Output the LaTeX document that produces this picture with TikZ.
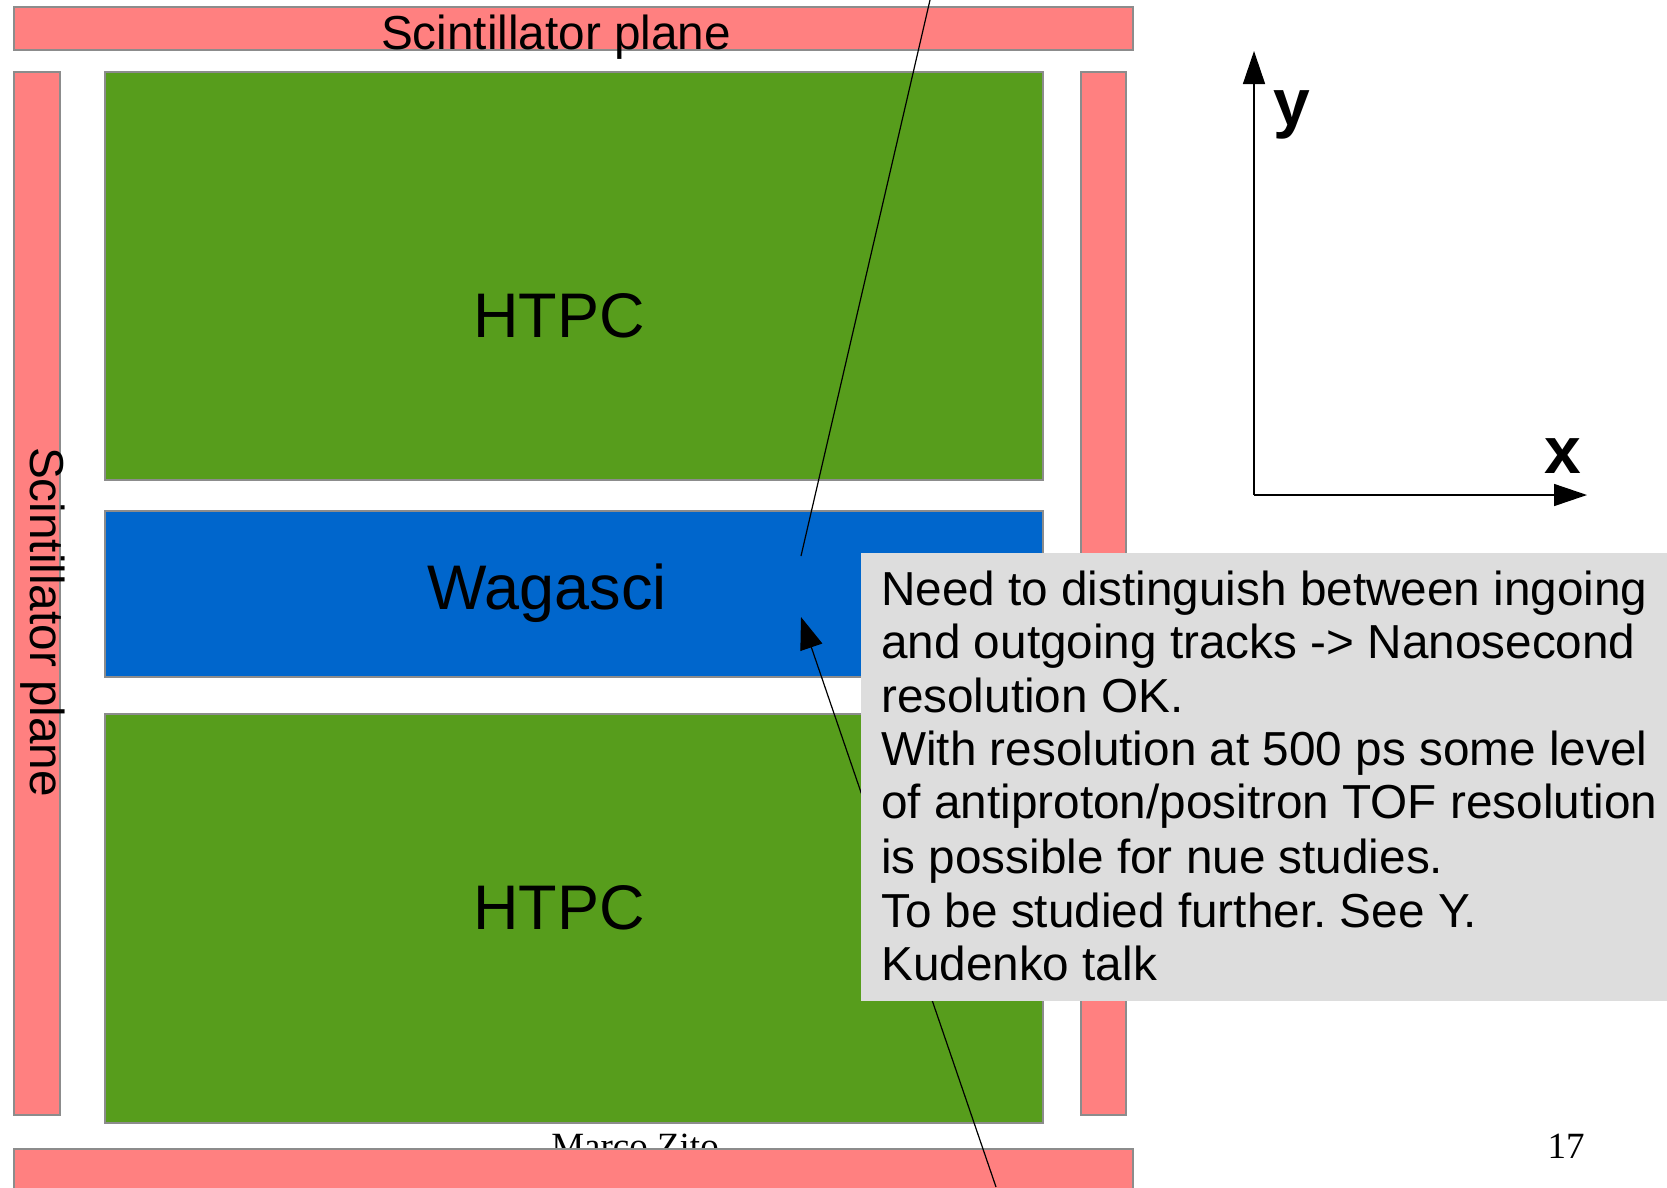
\documentclass[tikz,border=0pt]{standalone}
\usepackage{fontspec}
\setmainfont{Liberation Sans}
\newfontfamily\footerfont{Liberation Serif}
\usetikzlibrary{arrows.meta}
\definecolor{salmon}{HTML}{FF8080}
\definecolor{htpcgreen}{HTML}{579D1C}
\definecolor{wagblue}{HTML}{0066CC}
\definecolor{notegray}{HTML}{DDDDDD}
\definecolor{edgegray}{HTML}{8C8C8C}
\frenchspacing
\begin{document}
\begin{tikzpicture}[x=1pt,y=-1pt,
  blk/.style={rectangle,inner sep=0pt,outer sep=0pt,anchor=north west,line width=1.3pt,draw=edgegray},
  bar/.style={blk,fill=salmon},
  det/.style={blk,fill=htpcgreen},
  wag/.style={blk,fill=wagblue},
  note/.style={rectangle,inner sep=0pt,outer sep=0pt,anchor=north west,fill=notegray},
  biglbl/.style={inner sep=0pt,anchor=base,font=\fontsize{63}{70}\selectfont},
  barlbl/.style={inner sep=0pt,anchor=base,font=\fontsize{47.7}{55}\selectfont},
  notetxt/.style={inner sep=0pt,anchor=base west,font=\fontsize{47.7}{53.6}\selectfont},
  axlbl/.style={inner sep=0pt,anchor=base,font=\fontsize{66}{70}\selectfont\bfseries},
  foot/.style={inner sep=0pt,anchor=base,font=\fontsize{37}{40}\footerfont},
  track/.style={line width=1.2pt,black},
  axis/.style={line width=1.5pt,black,-{Triangle[length=33pt,width=22pt]}}
]
\useasboundingbox (0,0) rectangle (1667,1187);
\clip (0,0) rectangle (1667,1187);

% scintillator bars
\node[bar,minimum width=1119pt,minimum height=43pt] (topbar) at (14,7) {};
\node[bar,minimum width=46pt,minimum height=1043pt] (leftbar) at (14,72) {};
\node[bar,minimum width=45pt,minimum height=1043pt] (rightbar) at (1081,72) {};

% detectors
\node[det,minimum width=938pt,minimum height=408pt] (htpc1) at (105,72) {};
\node[wag,minimum width=938pt,minimum height=166pt] (wagasci) at (105,511) {};
\node[det,minimum width=938pt,minimum height=409pt] (htpc2) at (105,714) {};

\node[barlbl] (toplbl) at (556,49) {Scintillator plane};
\node[barlbl,rotate=-90] (leftlbl) at (30,622) {Scintillator plane};
\node[biglbl] (htpc1lbl) at (559,337) {HTPC};
\node[biglbl] (waglbl) at (547,609) {Wagasci};
\node[biglbl] (htpc2lbl) at (559,929) {HTPC};

% footer
\node[foot] (author) at (635,1158) {Marco Zito};
\node[bar,minimum width=1119pt,minimum height=60pt] (botbar) at (14,1149) {};
\node[foot] (page) at (1566,1158) {17};

% tracks
\coordinate (trA1) at (930,0);
\coordinate (trA2) at (801,556);
\coordinate (trB1) at (996,1187);
\coordinate (trB2) at (801,617);
\draw[track] (trA1) -- (trA2);
\draw[track,-{Triangle[length=32pt,width=23pt]}] (trB1) -- (trB2);

% note
\node[note,minimum width=806pt,minimum height=448pt] (notebox) at (861,553) {};
\node[notetxt] (n1) at (881,605) {Need to distinguish between ingoing};
\node[notetxt] (n2) at (881,658) {and outgoing tracks -> Nanosecond};
\node[notetxt] (n3) at (881,712) {resolution OK.};
\node[notetxt] (n4) at (881,765) {With resolution at 500 ps some level};
\node[notetxt] (n5) at (881,818) {of antiproton/positron TOF resolution};
\node[notetxt] (n6) at (881,873) {is possible for nue studies.};
\node[notetxt] (n7) at (881,927) {To be studied further. See Y.};
\node[notetxt] (n8) at (881,980) {Kudenko talk};

% axes
\coordinate (orig) at (1254,495);
\coordinate (ytip) at (1254,51);
\coordinate (xtip) at (1587,495);
\draw[axis] (orig) -- (ytip);
\draw[axis] (orig) -- (xtip);
\node[axlbl] (ylbl) at (1292,125) {y};
\node[axlbl] (xlbl) at (1563,473) {x};
\end{tikzpicture}
\end{document}
